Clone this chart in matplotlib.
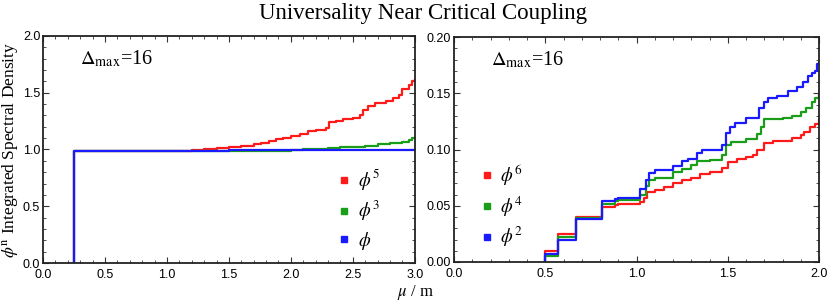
import matplotlib
matplotlib.use('Agg')
import matplotlib.pyplot as plt
from matplotlib.lines import Line2D
from matplotlib.ticker import MultipleLocator, FormatStrFormatter

# Left panel: odd powers (step data, steps-post)
mu_phi5 = [0.25, 0.25, 1.0, 1.1, 1.2, 1.3, 1.4, 1.5, 1.6, 1.7, 1.76, 1.82, 1.88, 1.94, 2.0, 2.07,
           2.14, 2.2, 2.28, 2.31, 2.36, 2.42, 2.5, 2.56, 2.58, 2.62, 2.68, 2.77, 2.82, 2.87, 2.9,
           2.95, 2.98, 3.0]
isd_phi5 = [0.0, 0.985, 0.986, 0.99, 0.995, 1.002, 1.012, 1.022, 1.032, 1.048, 1.058, 1.075, 1.09,
            1.105, 1.12, 1.14, 1.16, 1.175, 1.19, 1.24, 1.255, 1.268, 1.28, 1.30, 1.35, 1.38, 1.41,
            1.43, 1.45, 1.48, 1.53, 1.57, 1.60, 1.61]
mu_phi3 = [0.25, 0.25, 1.8, 1.9, 2.0, 2.1, 2.2, 2.3, 2.4, 2.5, 2.6, 2.7, 2.8, 2.9, 2.95, 2.98, 3.0]
isd_phi3 = [0.0, 0.985, 0.987, 0.99, 0.995, 1.0, 1.005, 1.012, 1.018, 1.022, 1.03, 1.045, 1.055,
            1.065, 1.08, 1.1, 1.1]
mu_phi1 = [0.25, 0.25, 1.0, 1.5, 2.0, 3.0]
isd_phi1 = [0.0, 0.985, 0.988, 0.993, 0.997, 0.997]

# Right panel: even powers
mu_phi6 = [0.5, 0.5, 0.57, 0.67, 0.81, 0.88, 0.9, 1.02, 1.04, 1.06, 1.1, 1.15, 1.2, 1.25, 1.3,
           1.35, 1.4, 1.47, 1.5, 1.55, 1.6, 1.64, 1.66, 1.7, 1.75, 1.85, 1.9, 1.92, 1.95, 1.98, 2.0]
isd_phi6 = [0.0, 0.01, 0.025, 0.04, 0.049, 0.051, 0.052, 0.053, 0.057, 0.062, 0.064, 0.067, 0.07,
            0.073, 0.075, 0.078, 0.08, 0.084, 0.089, 0.092, 0.093, 0.095, 0.1, 0.106, 0.108, 0.11,
            0.113, 0.116, 0.12, 0.123, 0.126]
mu_phi4 = [0.5, 0.5, 0.57, 0.67, 0.81, 0.88, 0.9, 1.02, 1.05, 1.07, 1.1, 1.2, 1.25, 1.3, 1.33, 1.4,
           1.47, 1.49, 1.52, 1.6, 1.66, 1.68, 1.7, 1.8, 1.85, 1.9, 1.93, 1.96, 1.98, 2.0]
isd_phi4 = [0.0, 0.005, 0.022, 0.039, 0.052, 0.054, 0.055, 0.06, 0.068, 0.073, 0.075, 0.08, 0.083,
            0.086, 0.09, 0.091, 0.095, 0.104, 0.107, 0.109, 0.114, 0.12, 0.127, 0.128, 0.13, 0.133,
            0.137, 0.142, 0.146, 0.149]
mu_phi2 = [0.5, 0.5, 0.57, 0.67, 0.81, 0.88, 0.9, 1.02, 1.05, 1.07, 1.1, 1.2, 1.25, 1.28, 1.33, 1.36,
           1.47, 1.49, 1.51, 1.54, 1.6, 1.67, 1.7, 1.72, 1.77, 1.83, 1.88, 1.91, 1.94, 1.96, 1.98,
           1.99, 2.0]
isd_phi2 = [0.0, 0.007, 0.02, 0.038, 0.054, 0.056, 0.057, 0.065, 0.073, 0.079, 0.082, 0.085, 0.09,
            0.092, 0.097, 0.1, 0.104, 0.115, 0.12, 0.124, 0.128, 0.137, 0.142, 0.146, 0.148, 0.152,
            0.156, 0.16, 0.165, 0.168, 0.17, 0.176, 0.177]

RED, GREEN, BLUE = '#ff1a1a', '#1a9e1a', '#1a1aff'

plt.rcParams['mathtext.fontset'] = 'stix'
SERIF = 'Liberation Serif'
SANS = 'Liberation Sans'

fig = plt.figure(figsize=(8.3, 3.06), dpi=100)
ax1 = fig.add_axes([0.0518, 0.1405, 0.448, 0.742])
ax2 = fig.add_axes([0.547, 0.1438, 0.4398, 0.735])

ax1.plot(mu_phi5, isd_phi5, drawstyle='steps-post', color=RED, lw=1.6)
ax1.plot(mu_phi3, isd_phi3, drawstyle='steps-post', color=GREEN, lw=1.6)
ax1.plot(mu_phi1, isd_phi1, drawstyle='steps-post', color=BLUE, lw=1.6)

ax2.plot(mu_phi6, isd_phi6, drawstyle='steps-post', color=RED, lw=1.6)
ax2.plot(mu_phi4, isd_phi4, drawstyle='steps-post', color=GREEN, lw=1.6)
ax2.plot(mu_phi2, isd_phi2, drawstyle='steps-post', color=BLUE, lw=1.6)

ax1.set_xlim(0, 3.0)
ax1.set_ylim(0, 2.0)
ax1.xaxis.set_major_locator(MultipleLocator(0.5))
ax1.xaxis.set_minor_locator(MultipleLocator(0.1))
ax1.yaxis.set_major_locator(MultipleLocator(0.5))
ax1.yaxis.set_minor_locator(MultipleLocator(0.1))
ax1.xaxis.set_major_formatter(FormatStrFormatter('%.1f'))
ax1.yaxis.set_major_formatter(FormatStrFormatter('%.1f'))

ax2.set_xlim(0, 2.0)
ax2.set_ylim(0, 0.20)
ax2.xaxis.set_major_locator(MultipleLocator(0.5))
ax2.xaxis.set_minor_locator(MultipleLocator(0.1))
ax2.yaxis.set_major_locator(MultipleLocator(0.05))
ax2.yaxis.set_minor_locator(MultipleLocator(0.01))
ax2.xaxis.set_major_formatter(FormatStrFormatter('%.1f'))
ax2.yaxis.set_major_formatter(FormatStrFormatter('%.2f'))

for ax in (ax1, ax2):
    for s in ax.spines.values():
        s.set_linewidth(1.3)
        s.set_color('#222222')
    ax.tick_params(which='both', direction='in', top=True, right=True, labelsize=9,
                   color='#333333', pad=2)
    ax.tick_params(axis='x', which='major', pad=4)
    ax.tick_params(which='major', length=4, width=0.8)
    ax.tick_params(which='minor', length=2, width=0.6)
    for lab in ax.get_xticklabels() + ax.get_yticklabels():
        lab.set_fontfamily(SANS)
    ax.text(0.1, 0.9, r'$\Delta_{\mathrm{max}}$=16', transform=ax.transAxes,
            fontsize=14.5, family=SERIF, va='center', ha='left')

def legend_for(ax, labels, colors, loc):
    handles = [Line2D([], [], ls='none', marker='s', ms=4, color=c) for c in colors]
    leg = ax.legend(handles, labels, loc='center', bbox_to_anchor=loc, frameon=False,
                    handlelength=0.6, handletextpad=0.4, labelspacing=0.35, fontsize=13.5)
    return leg

legend_for(ax1, [r'$\phi^5$', r'$\phi^3$', r'$\phi$'], [RED, GREEN, BLUE], (0.85, 0.235))
legend_for(ax2, [r'$\phi^6$', r'$\phi^4$', r'$\phi^2$'], [RED, GREEN, BLUE], (0.13, 0.25))

ax1.set_ylabel(r'$\phi^{\mathrm{n}}$ Integrated Spectral Density', family=SERIF, fontsize=12.5,
               labelpad=1)
fig.text(0.51, 0.955, 'Universality Near Critical Coupling', family=SERIF, fontsize=16.5,
         ha='center', va='center')
fig.text(0.5, 0.045, r'$\mu$ / m', family=SERIF, fontsize=12, ha='center', va='center')

fig.savefig('out.png', dpi=100)
